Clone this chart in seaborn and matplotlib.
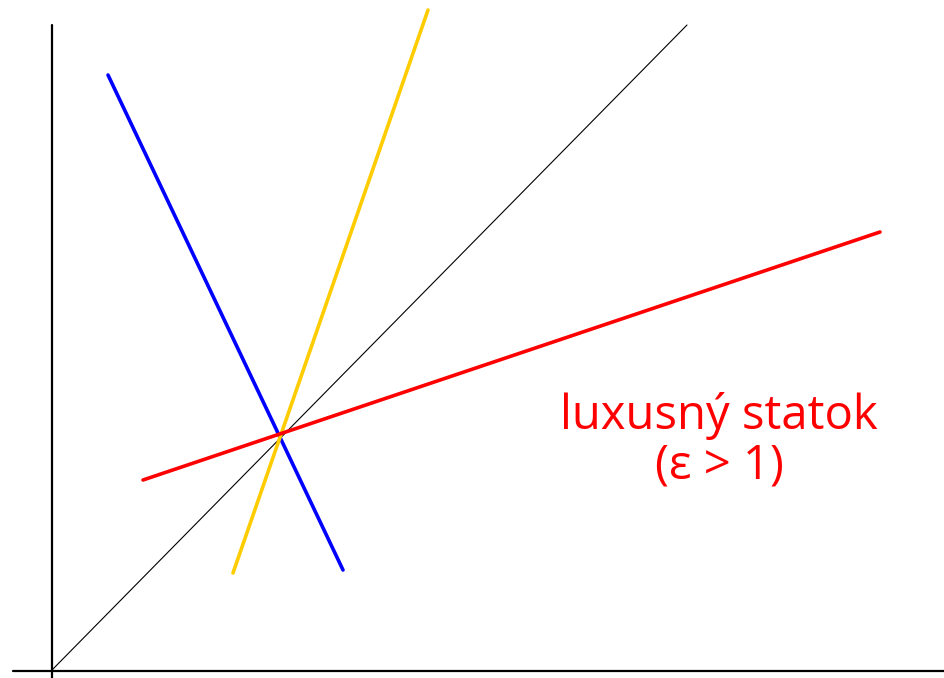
"""Luxury good diagram: income vs. demand lines through a common point."""

import matplotlib.pyplot as plt
import pandas as pd
import seaborn as sns

sns.set_theme(style="white")
plt.rcParams['font.family'] = ['Open Sans', 'DejaVu Sans']

# line endpoints (pixel-like units, y measured up from the bottom)
line_names = ["diagonal", "blue", "yellow", "red"]
x_start = [52, 108, 233, 143]
x_end = [687, 343, 428, 880]
y_start = [8, 603, 105, 198]
y_end = [653, 108, 668, 446]
line_colors = ["black", "#0000ff", "#ffcc00", "#ff0000"]
line_widths = [0.8, 2.6, 2.6, 2.6]

label_text = "luxusný statok\n(ε > 1)"

rows = []
for name, x0, x1, y0, y1 in zip(line_names, x_start, x_end, y_start, y_end):
    rows.append({"line": name, "x": x0, "y": y0})
    rows.append({"line": name, "x": x1, "y": y1})
df = pd.DataFrame(rows)

fig = plt.figure(figsize=(9.45, 6.78), dpi=100)
ax = fig.add_axes([0, 0, 1, 1])

# axes drawn as plain lines
ax.plot([52, 52], [0, 653], color="black", linewidth=1.6)
ax.plot([13, 945], [7.5, 7.5], color="black", linewidth=1.6)

for name, color, lw in zip(line_names, line_colors, line_widths):
    sns.lineplot(
        data=df[df["line"] == name], x="x", y="y", color=color,
        linewidth=lw, ax=ax, estimator=None, sort=False,
    )

ax.text(719, 237, label_text, color="#ff0000", fontsize=34,
        ha="center", va="center", linespacing=1.05)

ax.set_xlim(0, 945)
ax.set_ylim(0, 678)
ax.axis("off")
fig.savefig("out.png", dpi=100)
